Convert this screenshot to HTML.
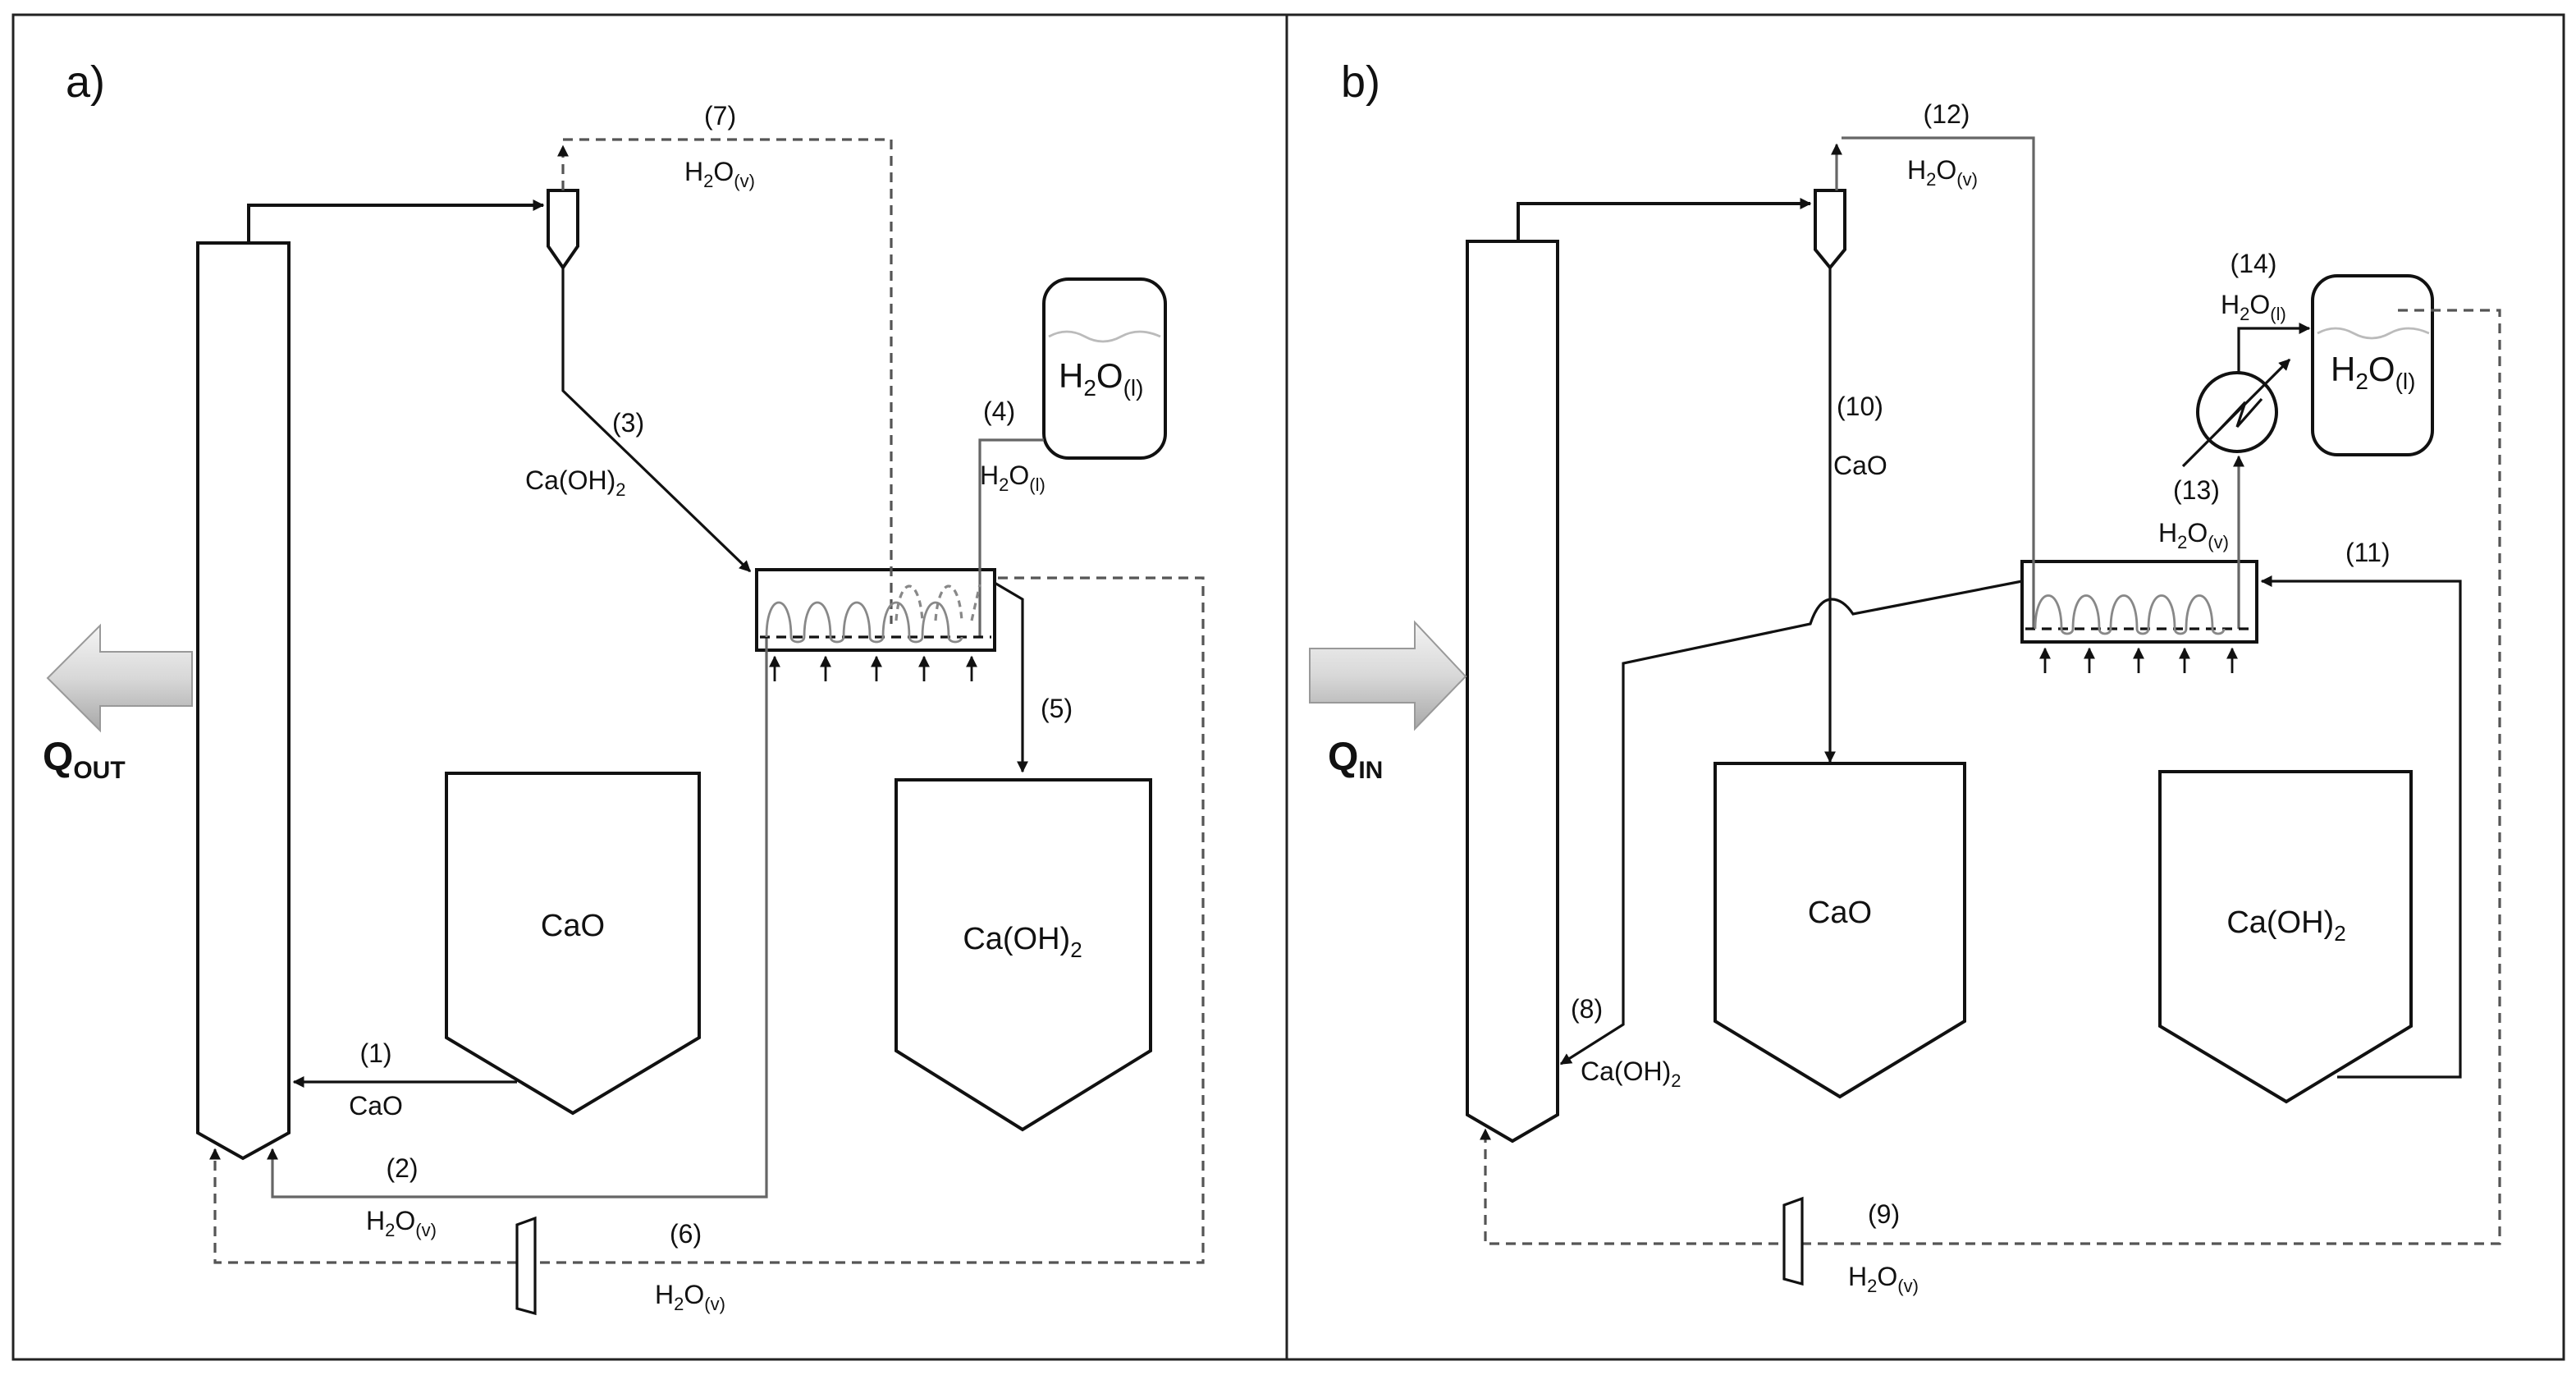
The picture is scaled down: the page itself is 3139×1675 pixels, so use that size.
<!DOCTYPE html>
<html><head><meta charset="utf-8"><style>
html,body{margin:0;padding:0;background:#fff}
svg{display:block}
text{font-family:"Liberation Sans",Arial,sans-serif;fill:#111}
</style></head><body>
<svg width="3139" height="1675" viewBox="0 0 1569.5 837.5" xmlns="http://www.w3.org/2000/svg">
<defs>
<marker id="ar" viewBox="0 0 10 10" refX="9" refY="5" markerWidth="7" markerHeight="7" markerUnits="userSpaceOnUse" orient="auto"><path d="M0,0L10,5L0,10z" fill="#111"/></marker>
<linearGradient id="g" x1="0" y1="0" x2="0" y2="1"><stop offset="0" stop-color="#f4f4f4"/><stop offset="0.5" stop-color="#d8d8d8"/><stop offset="1" stop-color="#a8a8a8"/></linearGradient>
</defs>
<rect x="8" y="9" width="1554" height="819" fill="none" stroke="#222" stroke-width="1.5"/>
<line x1="784" y1="9" x2="784" y2="828" stroke="#222" stroke-width="1.5"/>

<g fill="none" stroke="#111" stroke-width="2">
<polygon points="120.5,148 176,148 176,690 148,705.5 120.5,690"/>
<polyline points="151.5,148 151.5,125 331,125" marker-end="url(#ar)"/>
<polygon points="334,116 352,116 352,150 343,163 334,150"/>
<polyline points="343,163 343,238 457,348" marker-end="url(#ar)" stroke-width="1.6"/>
<rect x="461" y="347" width="145" height="49"/>
<rect x="636" y="170" width="74" height="109" rx="15"/>
<polyline points="606,355 623,365 623,470" marker-end="url(#ar)" stroke-width="1.6"/>
<polygon points="546,475 701,475 701,640 623,688 546,640"/>
<polygon points="272,471 426,471 426,632 349,678 272,632"/>
<polyline points="315,659 179,659" marker-end="url(#ar)" stroke-width="1.6"/>
<polygon points="894,147 949,147 949,679 921.5,695 894,679"/>
<polyline points="925,147 925,124 1103,124" marker-end="url(#ar)"/>
<polygon points="1106,116 1124,116 1124,152 1115,163 1106,152"/>
<polyline points="1115,163 1115,464" marker-end="url(#ar)" stroke-width="1.6"/>
<rect x="1232" y="342" width="143" height="49"/>
<rect x="1409" y="168" width="73" height="109" rx="15"/>
<polygon points="1045,465 1197,465 1197,622 1121,668 1045,622"/>
<polygon points="1316,470 1469,470 1469,625 1393,671 1316,625"/>
<polyline points="1424,656 1499,656 1499,354 1378,354" marker-end="url(#ar)" stroke-width="1.6"/>
<path d="M1232,354 L1129,374 Q1123,365 1116,365 Q1108,365 1103,380 L989,404 L989,624 L951,648" marker-end="url(#ar)" stroke-width="1.6"/>
<circle cx="1363" cy="251" r="24"/>
<polyline points="1330,284 1395,219" marker-end="url(#ar)" stroke-width="1.6"/>
<polyline points="1352,262 1368,245 1363,260 1378,243" stroke-width="1.6"/>
<polyline points="1364,227 1364,200 1407,200" marker-end="url(#ar)" stroke-width="1.6"/>
</g>

<g fill="none" stroke="#666" stroke-width="1.6">
<polyline points="636,268 597,268 597,388"/>
<polyline points="467,388 467,729 166,729 166,700" marker-end="url(#ar)"/>
<polyline points="1119,116 1119,88" marker-end="url(#ar)"/>
<polyline points="1122,84 1239,84 1239,383"/>
<polyline points="1364,383 1364,278" marker-end="url(#ar)"/>
</g>

<g fill="none" stroke="#555" stroke-width="1.6" stroke-dasharray="6,4">
<polyline points="343,116 343,89" marker-end="url(#ar)"/>
<polyline points="343,85 543,85 543,380"/>
<polyline points="608,352 733,352 733,769 131,769 131,700" marker-end="url(#ar)"/>
<polyline points="1461,189 1523,189 1523,757.5 905,757.5 905,688" marker-end="url(#ar)"/>
<line x1="463" y1="388" x2="604" y2="388" stroke="#111"/>
<line x1="1234" y1="383" x2="1373" y2="383" stroke="#111"/>
<path d="M546,378 C548,350 560,350 562,378 M570,378 C572,350 584,350 586,378 M592,378 L597,356" stroke="#888" stroke-dasharray="4,3"/>
</g>

<g fill="none" stroke="#888" stroke-width="1.4">
<path d="M467,388 C467,360 482,360 482,388 C482,392 490,392 490,388 C490,360 506,360 506,388 C506,392 514,392 514,388 C514,360 530,360 530,388 C530,392 538,392 538,388 C538,360 554,360 554,388 C554,392 562,392 562,388 C562,360 578,360 578,388 C578,392 586,392 586,388"/>
<path d="M1240,383 C1240,356 1256,356 1256,383 C1256,387 1263,387 1263,383 C1263,356 1279,356 1279,383 C1279,387 1286,387 1286,383 C1286,356 1302,356 1302,383 C1302,387 1309,387 1309,383 C1309,356 1325,356 1325,383 C1325,387 1332,387 1332,383 C1332,356 1348,356 1348,383 C1348,387 1355,387 1355,383"/>
<path d="M639,205 q11,-6 22,0 t22,0 t24,0" stroke="#bbb"/>
<path d="M1412,203 q11,-6 22,0 t22,0 t24,0" stroke="#bbb"/>
</g>

<g stroke="#111" stroke-width="1.4" marker-end="url(#ar)">
<line x1="472" y1="415" x2="472" y2="400"/><line x1="503" y1="415" x2="503" y2="400"/><line x1="534" y1="415" x2="534" y2="400"/><line x1="563" y1="415" x2="563" y2="400"/><line x1="592" y1="415" x2="592" y2="400"/>
<line x1="1246" y1="410" x2="1246" y2="395"/><line x1="1273" y1="410" x2="1273" y2="395"/><line x1="1303" y1="410" x2="1303" y2="395"/><line x1="1331" y1="410" x2="1331" y2="395"/><line x1="1360" y1="410" x2="1360" y2="395"/>
</g>

<polygon points="315,746 326,742 326,800 315,797" fill="#fff" stroke="#111" stroke-width="1.6"/>
<polygon points="1087,734 1098,730 1098,782 1087,779" fill="#fff" stroke="#111" stroke-width="1.6"/>

<polygon points="117,397 61,397 61,381 29,413 61,445 61,430 117,430" fill="url(#g)" stroke="#999"/>
<polygon points="798,395 862,395 862,379 893,412 862,444 862,428 798,428" fill="url(#g)" stroke="#999"/>

<g font-size="16">
<text x="40" y="59" font-size="27">a)</text>
<text x="817" y="59" font-size="27">b)</text>
<text x="26" y="469" font-size="24" font-weight="bold">Q<tspan font-size="15" dy="5">OUT</tspan></text>
<text x="809" y="469" font-size="24" font-weight="bold">Q<tspan font-size="15" dy="5">IN</tspan></text>
<text x="429" y="76">(7)</text>
<text x="417" y="110">H<tspan font-size="11" dy="4">2</tspan><tspan dy="-4">O</tspan><tspan font-size="11" dy="4">(v)</tspan></text>
<text x="373" y="263">(3)</text>
<text x="320" y="298">Ca(OH)<tspan font-size="11" dy="4">2</tspan></text>
<text x="599" y="256">(4)</text>
<text x="597" y="295">H<tspan font-size="11" dy="4">2</tspan><tspan dy="-4">O</tspan><tspan font-size="11" dy="4">(l)</tspan></text>
<text x="645" y="236" font-size="21">H<tspan font-size="14" dy="5">2</tspan><tspan dy="-5">O</tspan><tspan font-size="14" dy="5">(l)</tspan></text>
<text x="634" y="437">(5)</text>
<text x="623" y="578" text-anchor="middle" font-size="19">Ca(OH)<tspan font-size="13" dy="5">2</tspan></text>
<text x="349" y="570" text-anchor="middle" font-size="19">CaO</text>
<text x="229" y="647" text-anchor="middle">(1)</text>
<text x="229" y="679" text-anchor="middle">CaO</text>
<text x="245" y="717" text-anchor="middle">(2)</text>
<text x="223" y="749">H<tspan font-size="11" dy="4">2</tspan><tspan dy="-4">O</tspan><tspan font-size="11" dy="4">(v)</tspan></text>
<text x="408" y="757">(6)</text>
<text x="399" y="794">H<tspan font-size="11" dy="4">2</tspan><tspan dy="-4">O</tspan><tspan font-size="11" dy="4">(v)</tspan></text>
<text x="1186" y="75" text-anchor="middle">(12)</text>
<text x="1162" y="109">H<tspan font-size="11" dy="4">2</tspan><tspan dy="-4">O</tspan><tspan font-size="11" dy="4">(v)</tspan></text>
<text x="1119" y="253">(10)</text>
<text x="1117" y="289">CaO</text>
<text x="1373" y="166" text-anchor="middle">(14)</text>
<text x="1353" y="191">H<tspan font-size="11" dy="4">2</tspan><tspan dy="-4">O</tspan><tspan font-size="11" dy="4">(l)</tspan></text>
<text x="1420" y="232" font-size="21">H<tspan font-size="14" dy="5">2</tspan><tspan dy="-5">O</tspan><tspan font-size="14" dy="5">(l)</tspan></text>
<text x="1324" y="304">(13)</text>
<text x="1315" y="330">H<tspan font-size="11" dy="4">2</tspan><tspan dy="-4">O</tspan><tspan font-size="11" dy="4">(v)</tspan></text>
<text x="1429" y="342">(11)</text>
<text x="1121" y="562" text-anchor="middle" font-size="19">CaO</text>
<text x="1393" y="568" text-anchor="middle" font-size="19">Ca(OH)<tspan font-size="13" dy="5">2</tspan></text>
<text x="957" y="620">(8)</text>
<text x="963" y="658">Ca(OH)<tspan font-size="11" dy="4">2</tspan></text>
<text x="1138" y="745">(9)</text>
<text x="1126" y="783">H<tspan font-size="11" dy="4">2</tspan><tspan dy="-4">O</tspan><tspan font-size="11" dy="4">(v)</tspan></text>
</g>
</svg>
</body></html>
